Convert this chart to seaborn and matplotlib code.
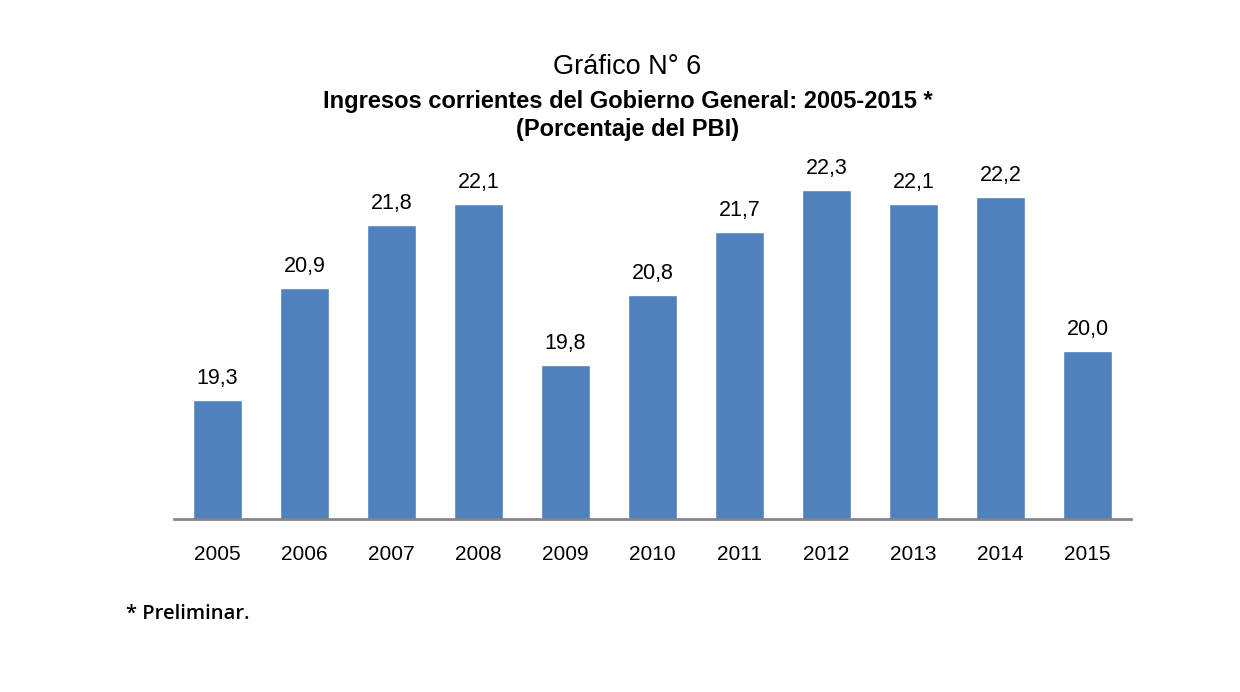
import matplotlib
matplotlib.use("Agg")
import matplotlib.pyplot as plt
import seaborn as sns
import pandas as pd

# Data
years = ["2005", "2006", "2007", "2008", "2009", "2010",
         "2011", "2012", "2013", "2014", "2015"]
ingresos = [19.3, 20.9, 21.8, 22.1, 19.8, 20.8, 21.7, 22.3, 22.1, 22.2, 20.0]

df = pd.DataFrame({"anio": years, "valor": ingresos})

sns.set_style("white")
plt.rcParams["font.family"] = ["Liberation Sans", "DejaVu Sans"]
plt.rcParams["text.color"] = "black"
plt.rcParams["xtick.color"] = "black"

fig = plt.figure(figsize=(12.4, 6.92), dpi=100)
ax = fig.add_axes([0.1403, 0.25, 0.772, 0.546])

sns.barplot(x="anio", y="valor", data=df, color="#4F81BD", width=0.56,
            saturation=1, ax=ax)

ax.set_ylim(17.6, 23.0)
ax.set_xlim(-0.5, len(years) - 0.5)

# Value labels
for i, v in enumerate(ingresos):
    ax.annotate(f"{v:.1f}".replace(".", ","), (i, v), xytext=(0, 8),
                textcoords="offset points", ha="center", va="bottom",
                fontsize=15.5, color="black")

for s in ["top", "right", "left"]:
    ax.spines[s].set_visible(False)
ax.spines["bottom"].set_color("#868686")
ax.spines["bottom"].set_linewidth(2)
ax.set_yticks([])
ax.set_xlabel("")
ax.set_ylabel("")
ax.tick_params(axis="x", length=0, pad=19, labelsize=15, labelcolor="black")

fig.text(0.506, 0.903, "Gráfico N° 6", ha="center", va="center", fontsize=19.5)
fig.text(0.506, 0.853, "Ingresos corrientes del Gobierno General: 2005-2015 *",
         ha="center", va="center", fontsize=17, fontweight="bold")
fig.text(0.506, 0.813, "(Porcentaje del PBI)", ha="center", va="center",
         fontsize=17, fontweight="bold")
fig.text(0.102, 0.113, "* Preliminar.", ha="left", va="center", fontsize=14.5,
         fontweight="semibold", family=["Open Sans", "DejaVu Sans"])

fig.savefig("out.png", dpi=100)
